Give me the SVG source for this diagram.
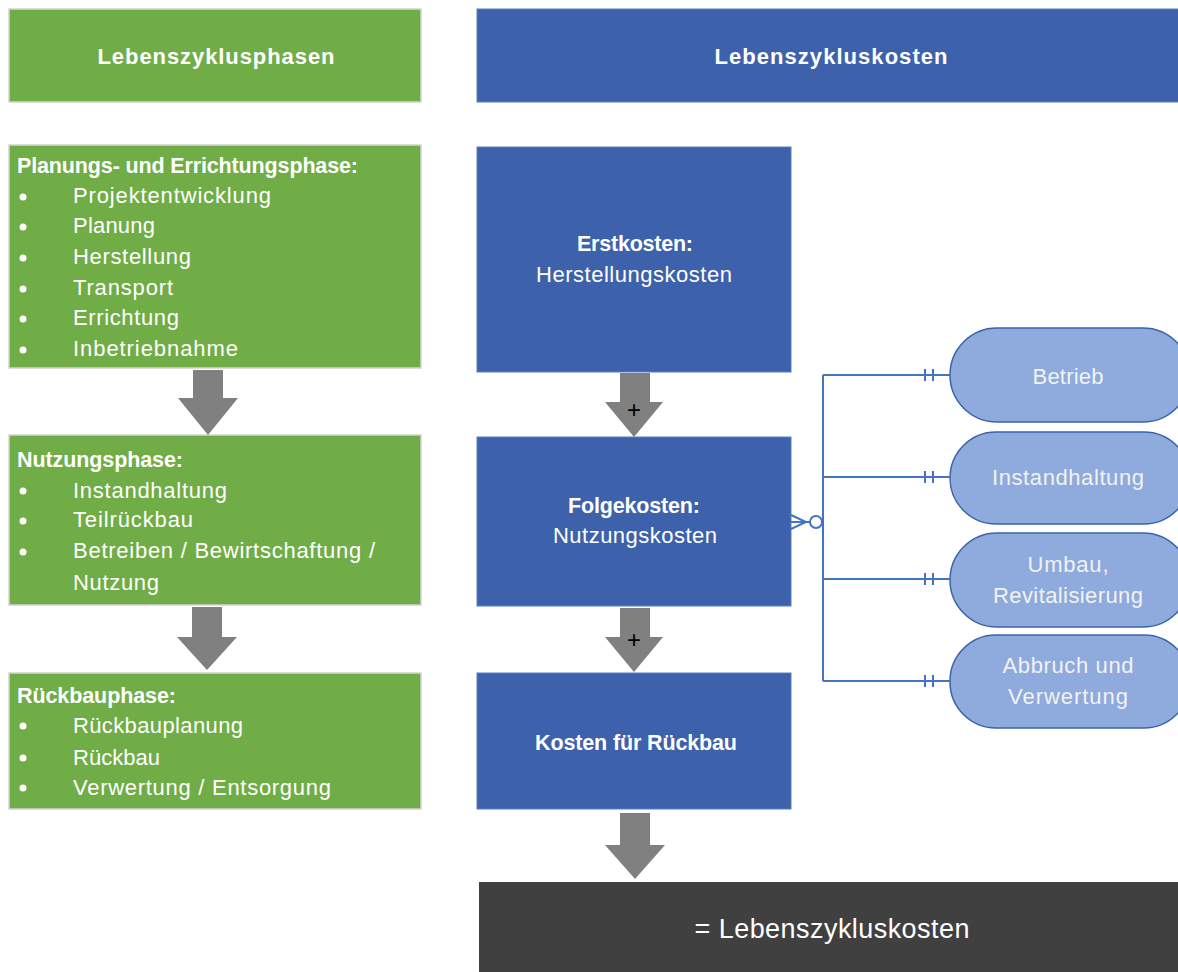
<svg xmlns="http://www.w3.org/2000/svg" width="1178" height="972" viewBox="0 0 1178 972">
<style>
text{font-family:"Liberation Sans",Arial,sans-serif;fill:#fff}
.g{fill:#70AD47;stroke:#D4D4D4;stroke-width:1.5}
.b{fill:#3D62AB;stroke:#5B7FC0;stroke-width:1}
.d{fill:#404040}
.p{fill:#8FAADC;stroke:#3B64A6;stroke-width:1.5}
.ar{fill:#808080}
.h{font-size:22px;font-weight:bold}
.t{font-size:22px}
.tb{font-size:21.5px;font-weight:bold}
.c{text-anchor:middle}
.pt{font-size:22px;fill:#F2F2F2;text-anchor:middle}
.plus{fill:#000;font-size:24px;text-anchor:middle}
.ln{fill:none;stroke:#4472C4;stroke-width:2}
</style>
<rect width="1178" height="972" fill="#fff"/>
<g id="hdr-phasen"><rect class="g" x="9" y="9" width="412" height="93"/><text class="h c" x="216" y="64" textLength="237">Lebenszyklusphasen</text></g>
<g id="hdr-kosten"><rect class="b" x="477" y="9" width="702" height="93"/><text class="h c" x="831" y="64" textLength="233">Lebenszykluskosten</text></g>
<g id="phase1"><rect class="g" x="9" y="145" width="412" height="223"/>
<text class="tb" x="17" y="173" textLength="341">Planungs- und Errichtungsphase:</text>
<g fill="#fff"><circle cx="23" cy="197" r="3.5"/><circle cx="23" cy="227" r="3.5"/><circle cx="23" cy="258" r="3.5"/><circle cx="23" cy="289" r="3.5"/><circle cx="23" cy="319" r="3.5"/><circle cx="23" cy="350" r="3.5"/></g>
<text class="t" x="73" y="203" textLength="198">Projektentwicklung</text>
<text class="t" x="73" y="233" textLength="82">Planung</text>
<text class="t" x="73" y="264" textLength="118">Herstellung</text>
<text class="t" x="73" y="295" textLength="100">Transport</text>
<text class="t" x="73" y="325" textLength="106">Errichtung</text>
<text class="t" x="73" y="356" textLength="165">Inbetriebnahme</text>
</g>
<g id="phase2"><rect class="g" x="9" y="435" width="412" height="170"/>
<text class="tb" x="17" y="467" textLength="166">Nutzungsphase:</text>
<g fill="#fff"><circle cx="23" cy="491" r="3.5"/><circle cx="23" cy="521" r="3.5"/><circle cx="23" cy="552" r="3.5"/></g>
<text class="t" x="73" y="498" textLength="154">Instandhaltung</text>
<text class="t" x="73" y="527" textLength="120">Teilrückbau</text>
<text class="t" x="73" y="558" textLength="302">Betreiben / Bewirtschaftung /</text>
<text class="t" x="73" y="590" textLength="86">Nutzung</text>
</g>
<g id="phase3"><rect class="g" x="9" y="673" width="412" height="136"/>
<text class="tb" x="17" y="703" textLength="159">Rückbauphase:</text>
<g fill="#fff"><circle cx="23" cy="726" r="3.5"/><circle cx="23" cy="758" r="3.5"/><circle cx="23" cy="788" r="3.5"/></g>
<text class="t" x="73" y="733" textLength="170">Rückbauplanung</text>
<text class="t" x="73" y="765" textLength="87">Rückbau</text>
<text class="t" x="73" y="795" textLength="258">Verwertung / Entsorgung</text>
</g>
<g id="erstkosten"><rect class="b" x="477" y="147" width="314" height="225"/>
<text class="tb c" x="635" y="251" textLength="116">Erstkosten:</text>
<text class="t c" x="634" y="282" textLength="196">Herstellungskosten</text></g>
<g id="folgekosten"><rect class="b" x="477" y="437" width="314" height="169"/>
<text class="tb c" x="634" y="513" textLength="132">Folgekosten:</text>
<text class="t c" x="635" y="543" textLength="164">Nutzungskosten</text></g>
<g id="rueckbau"><rect class="b" x="477" y="673" width="314" height="136"/>
<text class="tb c" x="636" y="750" textLength="202">Kosten für Rückbau</text></g>
<g id="summe"><rect class="d" x="479" y="882" width="700" height="90"/>
<text class="c" x="832" y="938" style="font-size:27px" textLength="275">= Lebenszykluskosten</text></g>
<g id="betrieb"><rect class="p" x="950" y="328" width="240" height="94" rx="47"/><text class="pt" x="1068" y="384" textLength="71">Betrieb</text></g>
<g id="instandhaltung"><rect class="p" x="950" y="432" width="240" height="92" rx="46"/><text class="pt" x="1068" y="485" textLength="152">Instandhaltung</text></g>
<g id="umbau"><rect class="p" x="950" y="533" width="240" height="94" rx="47"/><text class="pt" x="1068" y="572" textLength="81">Umbau,</text><text class="pt" x="1068" y="603" textLength="150">Revitalisierung</text></g>
<g id="abbruch"><rect class="p" x="950" y="635" width="240" height="93" rx="46"/><text class="pt" x="1068" y="673" textLength="131">Abbruch und</text><text class="pt" x="1068" y="704" textLength="120">Verwertung</text></g>
<g id="connectors">
<polygon class="ar" points="193,370 223,370 223,398 238,398 208,435 178,398 193,398"/>
<polygon class="ar" points="192,607 222,607 222,637 237,637 207,670 177,637 192,637"/>
<polygon class="ar" points="620,373 650,373 650,402 663,402 634,437 605,402 620,402"/>
<polygon class="ar" points="620,608 650,608 650,637 663,637 634,672 605,637 620,637"/>
<polygon class="ar" points="620,813 650,813 650,845 665,845 635,879 605,845 620,845"/>
<text class="plus" x="634" y="418">+</text>
<text class="plus" x="634" y="648">+</text>
<path class="ln" d="M823,375 V681 M823,375 H950 M823,477 H950 M823,579 H950 M823,681 H950 M791,522 H810"/>
<path class="ln" d="M925,369 V381 M933,369 V381 M925,471 V483 M933,471 V483 M925,573 V585 M933,573 V585 M925,675 V687 M933,675 V687"/>
<path class="ln" d="M791,515 L806,522 L791,529"/>
<circle class="ln" cx="816" cy="522" r="6" fill="#fff"/>
</g>
</svg>
